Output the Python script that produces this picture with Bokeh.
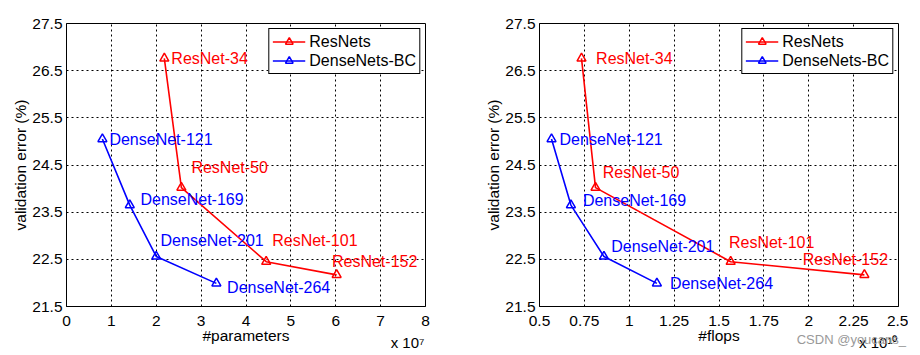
from bokeh.plotting import figure
from bokeh.layouts import row
from bokeh.models import (FixedTicker, CustomJSTickFormatter, Range1d, ColumnDataSource,
                          Legend, LegendItem, LinearAxis)
from bokeh.core.properties import value
from bokeh.embed import file_html
from bokeh.resources import INLINE

# ---------------- data ----------------
resnet_names = ["ResNet-34", "ResNet-50", "ResNet-101", "ResNet-152"]
densenet_names = ["DenseNet-121", "DenseNet-169", "DenseNet-201", "DenseNet-264"]

resnet_params = [2.18, 2.56, 4.45, 6.02]      # x 10^7
densenet_params = [0.80, 1.41, 2.00, 3.34]    # x 10^7
resnet_flops = [0.734, 0.812, 1.565, 2.31]    # x 10^10
densenet_flops = [0.567, 0.675, 0.859, 1.154] # x 10^10

resnet_err = [26.76, 24.02, 22.45, 22.17]
densenet_err = [25.05, 23.65, 22.56, 21.99]

params_ticks = [0, 1, 2, 3, 4, 5, 6, 7, 8]
flops_ticks = [0.5, 0.75, 1, 1.25, 1.5, 1.75, 2, 2.25, 2.5]
err_ticks = [21.5, 22.5, 23.5, 24.5, 25.5, 26.5, 27.5]

params_exponent = "x 10\u2077"
flops_exponent = "x 10\u00b9\u2070"
watermark = "CSDN @youcans_"

# label offsets in screen pixels (dx, dy; dy positive = down)
left_res_off = [(7, 0), (10, -20), (6, -21), (-4.7, -13.4)]
left_den_off = [(7, 0), (10.7, -6), (4.3, -16.3), (10.7, 4.3)]
right_res_off = [(14.6, 0), (7.3, -15.6), (-1.7, -19), (-61.7, -15)]
right_den_off = [(8, 0), (12, -4.4), (7.3, -9.7), (13, 0)]

FONT = "Liberation Sans"
RED = "#ff0000"
BLUE = "#0000ff"


def text_axis(text, at, standoff, color="black", size="15px"):
    ax = LinearAxis(ticker=FixedTicker(ticks=[at]),
                    formatter=CustomJSTickFormatter(args=dict(t=text), code="return t;"))
    ax.axis_line_color = None
    ax.major_tick_in = 0
    ax.major_tick_out = 0
    ax.minor_tick_in = 0
    ax.minor_tick_out = 0
    ax.major_label_standoff = standoff
    ax.major_label_text_font = FONT
    ax.major_label_text_font_size = size
    ax.major_label_text_color = color
    return ax


def make(xs_r, xs_d, xticks, xlabel, off_r, off_d, border_left, border_right):
    p = figure(frame_width=359, frame_height=283, output_backend="svg", toolbar_location=None,
               x_range=Range1d(xticks[0], xticks[-1]), y_range=Range1d(err_ticks[0], err_ticks[-1]),
               min_border_left=border_left, min_border_right=border_right,
               min_border_top=23, min_border_bottom=40)
    p.outline_line_color = "black"
    p.outline_line_width = 1
    p.outline_line_alpha = 1
    p.background_fill_color = "white"
    p.border_fill_color = "white"

    p.xaxis.ticker = FixedTicker(ticks=xticks)
    p.yaxis.ticker = FixedTicker(ticks=err_ticks)
    p.xaxis.formatter = CustomJSTickFormatter(code="return String(tick);")
    p.yaxis.formatter = CustomJSTickFormatter(code="return String(tick);")
    for ax in (p.xaxis, p.yaxis):
        ax.major_tick_in = 0
        ax.major_tick_out = 0
        ax.minor_tick_in = 0
        ax.minor_tick_out = 0
        ax.axis_line_color = "black"
        ax.major_label_text_font = FONT
        ax.major_label_text_font_size = "15.5px"
        ax.major_label_text_color = "black"
        ax.axis_label_text_font = FONT
        ax.axis_label_text_font_size = "15.5px"
        ax.axis_label_text_font_style = "normal"
        ax.axis_label_text_color = "black"
    p.xaxis.axis_label = xlabel
    p.yaxis.axis_label = "validation error (%)"
    p.xaxis.major_label_standoff = 9
    p.xaxis.axis_label_standoff = -2
    p.yaxis.major_label_standoff = 4
    p.yaxis.axis_label_standoff = 0

    for g in (p.xgrid, p.ygrid):
        g.grid_line_color = "black"
        g.grid_line_alpha = 1
        g.grid_line_width = 1
        g.grid_line_dash = "2 3"

    r_line = p.line(xs_r, resnet_err, line_color=RED, line_width=1.6)
    r_mark = p.scatter(xs_r, resnet_err, marker="triangle", size=9, fill_color=None,
                       line_color=RED, line_width=1.5)
    d_line = p.line(xs_d, densenet_err, line_color=BLUE, line_width=1.6)
    d_mark = p.scatter(xs_d, densenet_err, marker="triangle", size=9, fill_color=None,
                       line_color=BLUE, line_width=1.5)

    src_r = ColumnDataSource(dict(x=xs_r, y=resnet_err, t=resnet_names,
                                  dx=[o[0] for o in off_r], dy=[o[1] for o in off_r]))
    src_d = ColumnDataSource(dict(x=xs_d, y=densenet_err, t=densenet_names,
                                  dx=[o[0] for o in off_d], dy=[o[1] for o in off_d]))
    for src, col in ((src_r, RED), (src_d, BLUE)):
        p.text(x="x", y="y", text="t", x_offset="dx", y_offset="dy", source=src,
               text_color=col, text_font=value(FONT), text_font_size="16px",
               text_align="left", text_baseline="middle")

    legend = Legend(items=[LegendItem(label="ResNets", renderers=[r_line, r_mark]),
                           LegendItem(label="DenseNets-BC", renderers=[d_line, d_mark])],
                    location="top_right")
    legend.border_line_color = "black"
    legend.border_line_width = 1
    legend.border_line_alpha = 1
    legend.background_fill_alpha = 1
    legend.label_text_font = FONT
    legend.label_text_font_size = "16px"
    legend.label_text_color = "black"
    legend.glyph_width = 33
    legend.glyph_height = 19
    legend.label_height = 19
    legend.label_standoff = 4
    legend.spacing = 0
    legend.padding = 3
    legend.margin = 5
    p.add_layout(legend, "center")
    return p


p1 = make(resnet_params, densenet_params, params_ticks, "#parameters",
          left_res_off, left_den_off, 66, 34)
p1.add_layout(text_axis(params_exponent, 7.6, -13), "below")

p2 = make(resnet_flops, densenet_flops, flops_ticks, "#flops",
          right_res_off, right_den_off, 80, 10)
p2.add_layout(text_axis(flops_exponent, 2.387, -13), "below")
p2.add_layout(text_axis(watermark, 2.265, -22, color="#999999", size="13px"), "below")

layout = row(p1, p2)
open("out.html", "w").write(file_html(layout, INLINE))
